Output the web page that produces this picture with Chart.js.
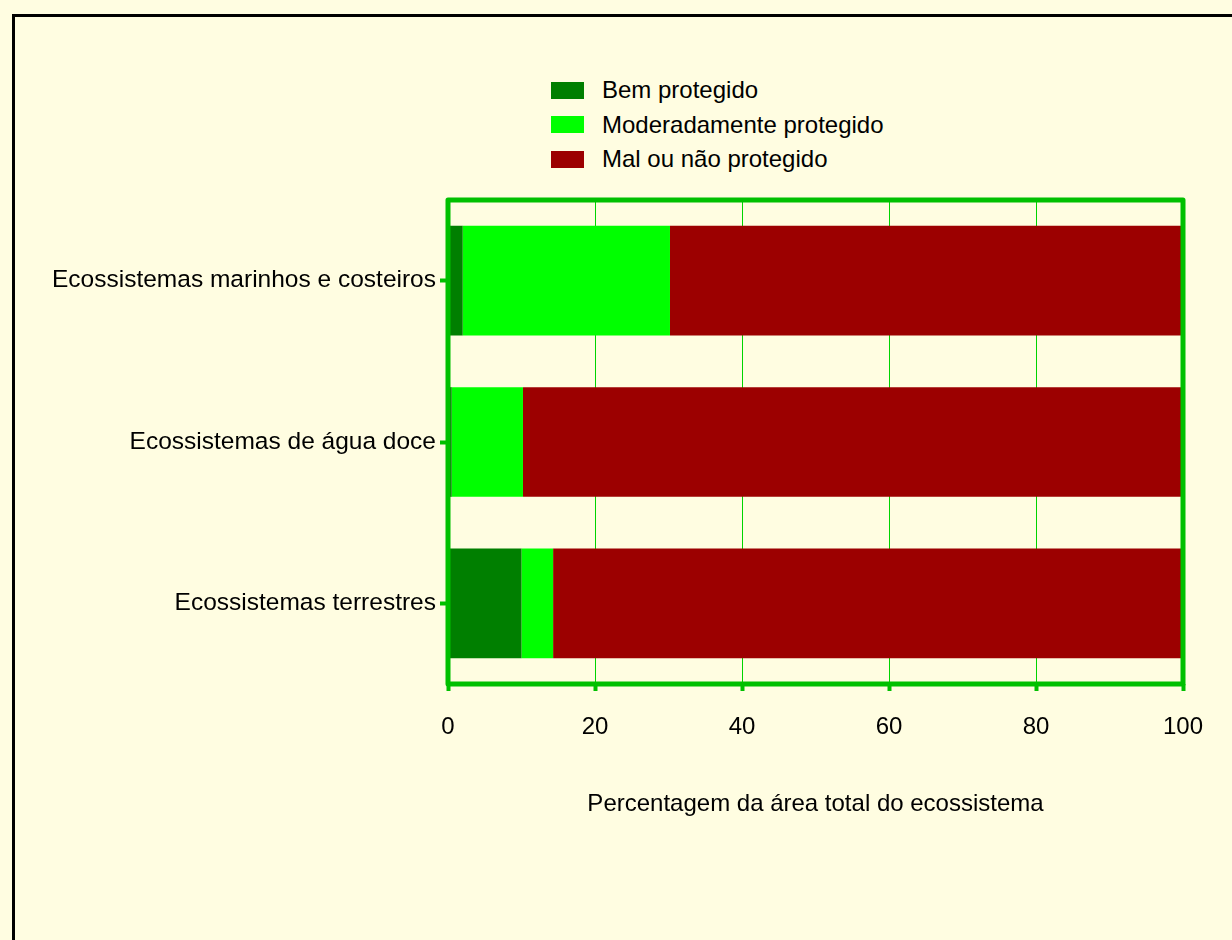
<!DOCTYPE html>
<html>
<head>
<meta charset="utf-8">
<script src="https://cdn.jsdelivr.net/npm/chart.js@4"></script>
<style>
  body { margin: 0; background: #FFFDE1; font-family: "Liberation Sans", Arial, sans-serif; }
  #wrap { position: relative; width: 1232px; height: 940px; overflow: hidden; }
  #frame { position: absolute; left: 12px; top: 14px; right: -10px; bottom: -10px; border-top: 3px solid #000; border-left: 3px solid #000; }
  #legend { position: absolute; left: 551px; top: 73px; margin: 0; padding: 0; list-style: none; }
  #legend li { height: 34.5px; display: flex; align-items: center; font-size: 24px; color: #000; }
  #legend span { display: inline-block; width: 33px; height: 17px; margin-right: 18px; }
  canvas { position: absolute; left: 0; top: 0; }
</style>
</head>
<body>
<div id="wrap">
  <div id="frame"></div>
  <ul id="legend"></ul>
  <canvas id="chart" width="1232" height="940"></canvas>
</div>
<script>
const categories = ["Ecossistemas marinhos e costeiros", "Ecossistemas de água doce", "Ecossistemas terrestres"];
const bemProtegido = [2, 0.5, 10];
const moderadamente = [28.2, 9.7, 4.3];
const malProtegido = [69.8, 89.8, 85.7];
const xTicks = [0, 20, 40, 60, 80, 100];

const axisGreen = "#00C000";

// green frame drawn above the bars, like the original
const framePlugin = {
  id: "frame",
  afterDatasetsDraw(chart) {
    const { ctx, chartArea: a } = chart;
    ctx.save();
    ctx.strokeStyle = axisGreen;
    ctx.lineWidth = 5;
    ctx.lineJoin = "round";
    ctx.strokeRect(a.left, a.top, a.right - a.left, a.bottom - a.top);
    ctx.restore();
  }
};

const chart = new Chart(document.getElementById("chart").getContext("2d"), {
  type: "bar",
  data: {
    labels: categories,
    datasets: [
      { label: "Bem protegido", data: bemProtegido, backgroundColor: "#007F00" },
      { label: "Moderadamente protegido", data: moderadamente, backgroundColor: "#00FF00" },
      { label: "Mal ou não protegido", data: malProtegido, backgroundColor: "#9C0000" }
    ]
  },
  options: {
    indexAxis: "y",
    responsive: false,
    animation: false,
    barPercentage: 0.68,
    categoryPercentage: 1,
    layout: { padding: { top: 200, right: 49, bottom: 0, left: 0 } },
    plugins: {
      legend: { display: false },
      tooltip: { enabled: false }
    },
    scales: {
      x: {
        stacked: true,
        min: 0,
        max: 100,
        afterBuildTicks: (s) => { s.ticks = xTicks.map(v => ({ value: v })); },
        afterFit: (s) => { s.height = 256; },
        border: { display: false },
        grid: { color: "#00D400", lineWidth: 1, tickLength: 7, tickWidth: 4, tickColor: axisGreen },
        ticks: { color: "#000", padding: 22, font: { family: "Liberation Sans", size: 24 } },
        title: {
          display: true,
          text: "Percentagem da área total do ecossistema",
          color: "#000",
          font: { family: "Liberation Sans", size: 24 },
          padding: { top: 0, bottom: 121 }
        }
      },
      y: {
        stacked: true,
        afterFit: (s) => { s.width = 448; },
        border: { display: false },
        grid: { offset: false, drawOnChartArea: false, tickLength: 8, tickWidth: 4, tickColor: axisGreen },
        ticks: { color: "#000", padding: 4, font: { family: "Liberation Sans", size: 24.5 } }
      }
    }
  },
  plugins: [framePlugin]
});

const legend = document.getElementById("legend");
chart.data.datasets.forEach(ds => {
  const li = document.createElement("li");
  const box = document.createElement("span");
  box.style.background = ds.backgroundColor;
  li.appendChild(box);
  li.appendChild(document.createTextNode(ds.label));
  legend.appendChild(li);
});
</script>
</body>
</html>
